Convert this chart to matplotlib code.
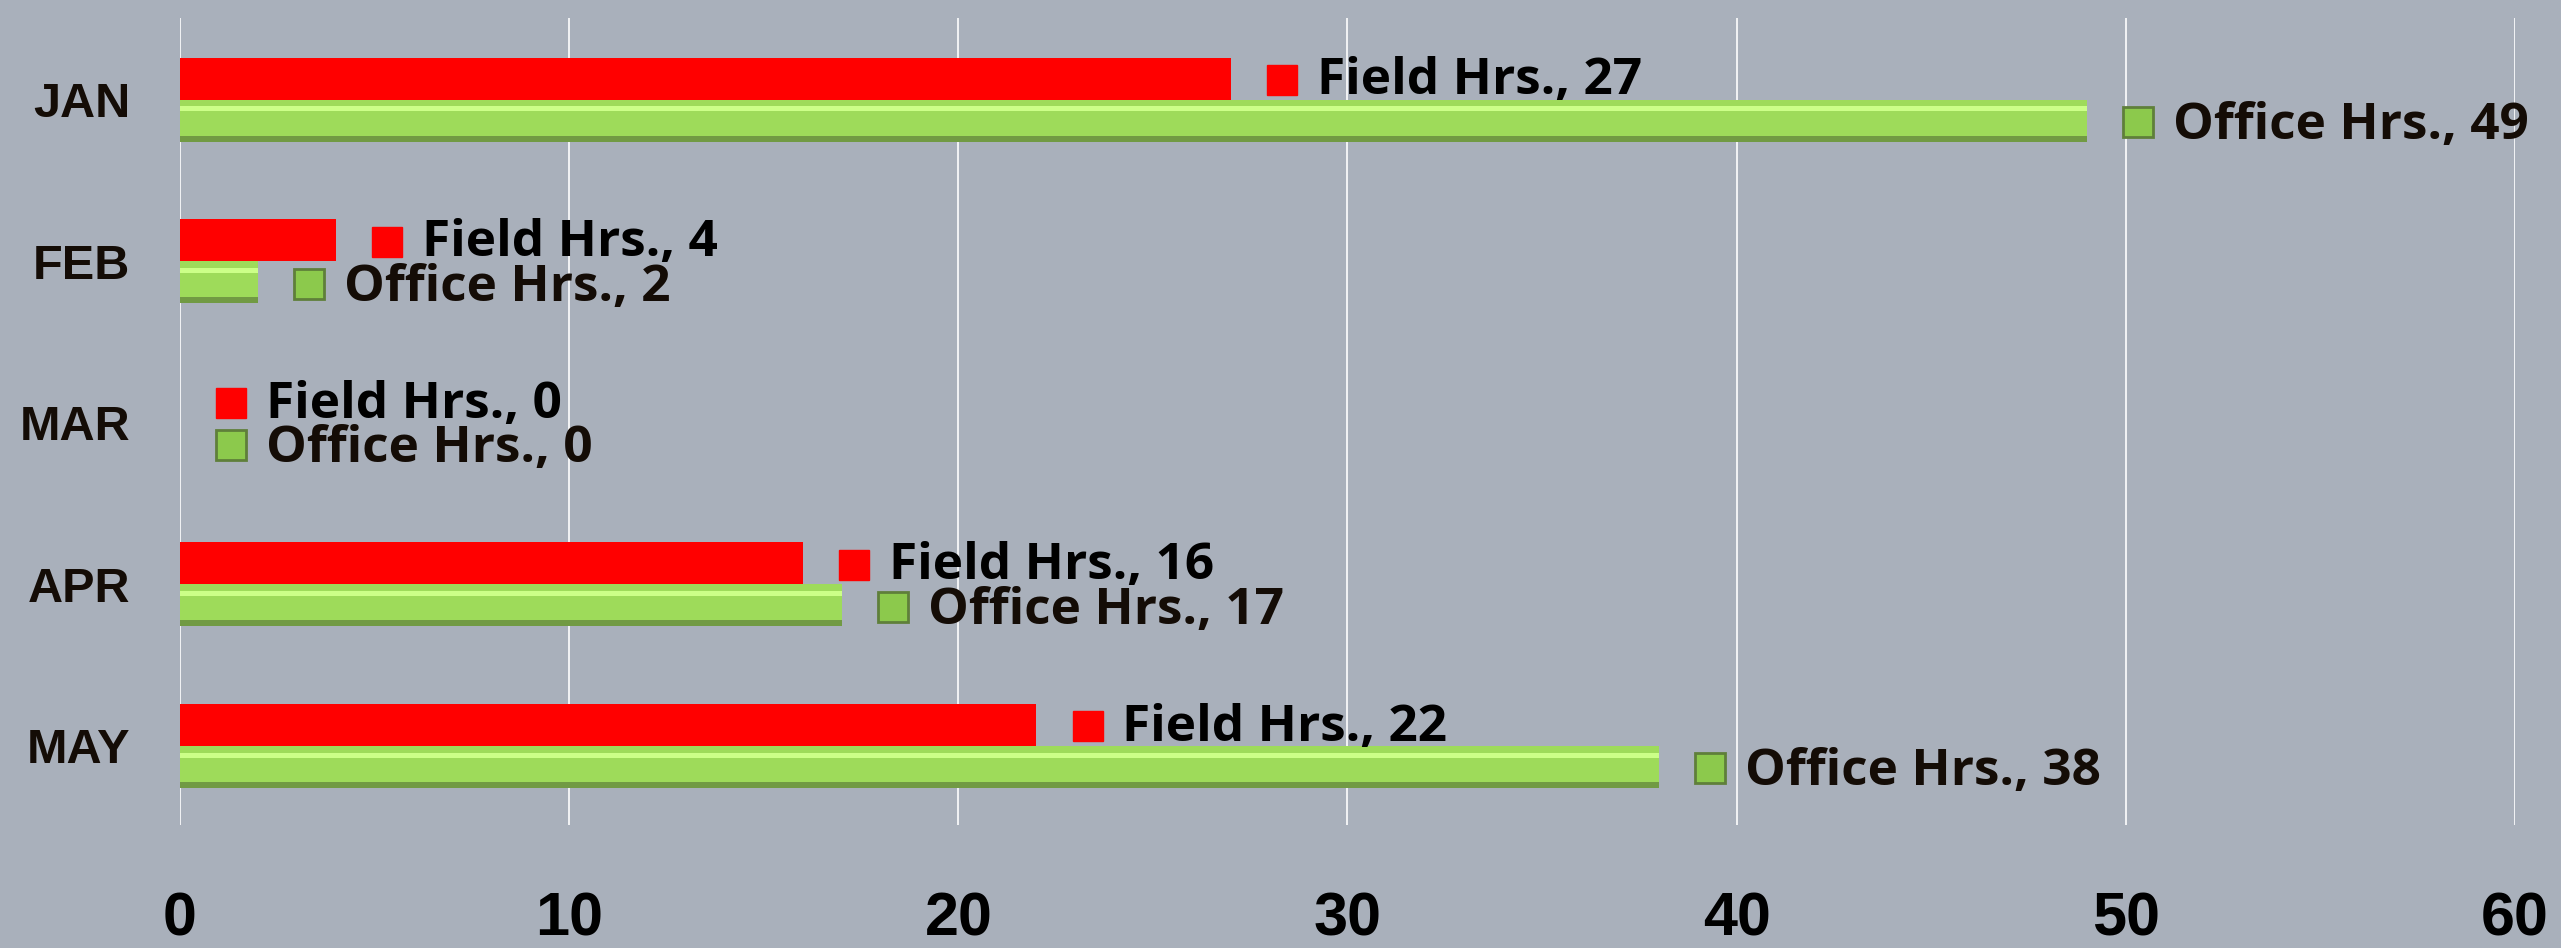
import numpy as np
import matplotlib
matplotlib.use("Agg")
import matplotlib.pyplot as plt
from matplotlib import font_manager
from matplotlib.transforms import offset_copy

#*************** DATA ******************#
months = ["JAN", "FEB", "MAR", "APR", "MAY"]
field_hrs = [27, 4, 0, 16, 22]
office_hrs = [49, 2, 0, 17, 38]
field_name = "Field Hrs."
office_name = "Office Hrs."
x_ticks = [0, 10, 20, 30, 40, 50, 60]

#*************** STYLE ******************#
BG = "#a9b0bb"
RED = "#ff0000"
GREEN = "#9edb5a"
GREEN_HI = "#ccff88"
GREEN_DK = "#5f7f3a"

installed = {f.name for f in font_manager.fontManager.ttflist}
narrow = ["Liberation Sans Narrow", "Liberation Sans"] if "Liberation Sans Narrow" in installed else ["Liberation Sans"]
label_font = ["Open Sans", "DejaVu Sans"]

fig = plt.figure(figsize=(25.61, 9.48), dpi=100, facecolor=BG)
ax = fig.add_axes([0.0703, 0.1297, 0.9117, 0.8513], facecolor=BG)

y = np.arange(len(months))
h = 0.26

# red bars (flat)
ax.barh(y - h / 2, field_hrs, height=h, color=RED, linewidth=0, zorder=3)

# green bars, rough bevel look with a highlight and a dark lower edge
ax.barh(y + h / 2, office_hrs, height=h, color=GREEN, linewidth=0, zorder=3)
ax.barh(y + h / 2 - h * 0.28, office_hrs, height=h * 0.12, color=GREEN_HI, linewidth=0, zorder=4)
ax.barh(y + h / 2 + h * 0.43, office_hrs, height=h * 0.14, color=GREEN_DK, alpha=0.7, linewidth=0, zorder=4)

# data labels: marker + "Series, value"
mk_tr = offset_copy(ax.transData, fig=fig, x=37, y=-1, units="points")
for i in range(len(months)):
    ax.plot([field_hrs[i]], [y[i] - h / 2], marker="s", markersize=21, color=RED,
            linestyle="none", zorder=5, transform=mk_tr, clip_on=False)
    ax.plot([office_hrs[i]], [y[i] + h / 2], marker="s", markersize=21, color="#8cc94c",
            markeredgecolor=GREEN_DK, markeredgewidth=2, linestyle="none", zorder=5,
            transform=mk_tr, clip_on=False)
    ax.annotate(f"{field_name}, {field_hrs[i]}", (field_hrs[i], y[i] - h / 2),
                xytext=(62, -2), textcoords="offset points", va="center", ha="left",
                fontsize=37, fontweight="bold", family=label_font, color="black", zorder=6)
    ax.annotate(f"{office_name}, {office_hrs[i]}", (office_hrs[i], y[i] + h / 2),
                xytext=(62, -4), textcoords="offset points", va="center", ha="left",
                fontsize=37, fontweight="bold", family=label_font, color="#140c06", zorder=6)

ax.set_xlim(0, 60)
ax.set_ylim(4.49, -0.505)
ax.set_xticks(x_ticks)
ax.set_yticks(y)
ax.set_yticklabels(months)
ax.grid(axis="x", color="white", linewidth=1.2, zorder=1)
ax.set_axisbelow(True)
for s in ax.spines.values():
    s.set_visible(False)
ax.tick_params(axis="both", length=0)
ax.tick_params(axis="x", pad=48)
ax.tick_params(axis="y", pad=36)
for t in ax.get_xticklabels():
    t.set_family(narrow)
    t.set_fontweight("bold")
    t.set_fontsize(44)
for t in ax.get_yticklabels():
    t.set_family(narrow)
    t.set_fontweight("bold")
    t.set_fontsize(35)
    t.set_color("#140c06")

fig.savefig("out.png", dpi=100, facecolor=BG)
